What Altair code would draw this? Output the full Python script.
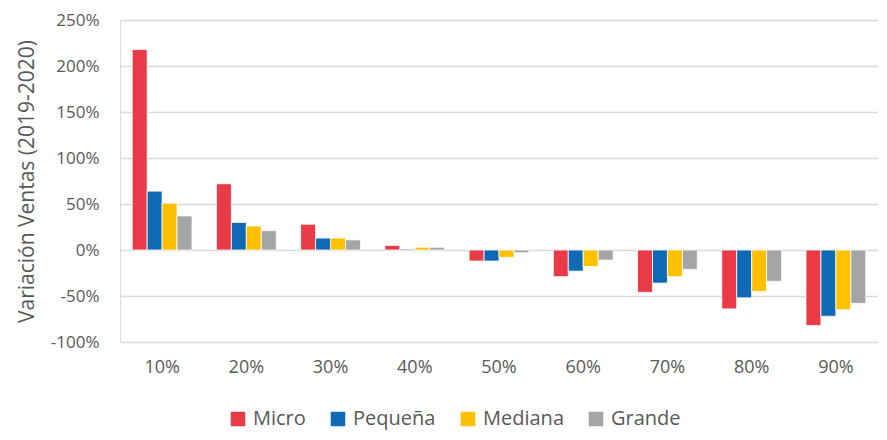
import altair as alt
import pandas as pd

categories = ["10%", "20%", "30%", "40%", "50%", "60%", "70%", "80%", "90%"]
series = ["Micro", "Pequeña", "Mediana", "Grande"]
micro = [218, 72, 28, 5, -12, -29, -46, -64, -82]
pequena = [64, 30, 13, 1, -12, -23, -36, -52, -72]
mediana = [51, 26, 13, 3, -8, -18, -29, -45, -65]
grande = [37, 21, 11, 3, -3, -11, -21, -34, -58]
colors = ["#E83A47", "#0F69B4", "#FFC000", "#A5A5A5"]
y_ticks = [-100, -50, 0, 50, 100, 150, 200, 250]

rows = []
for name, vals in zip(series, [micro, pequena, mediana, grande]):
    for c, v in zip(categories, vals):
        rows.append({"cat": c, "serie": name, "val": v})
df = pd.DataFrame(rows)

FONT = "Open Sans"
TXT = "#595959"

chart = alt.Chart(df).mark_bar(stroke="white", strokeWidth=0.8).encode(
    x=alt.X("cat:N", sort=categories, title=None,
            scale=alt.Scale(paddingInner=0.29, paddingOuter=0.145),
            axis=alt.Axis(labelAngle=0, domain=False, ticks=False, grid=False, labelPadding=16,
                          labelFontSize=18, labelColor=TXT, labelFont=FONT)),
    xOffset=alt.XOffset("serie:N", sort=series, scale=alt.Scale(paddingInner=0.0)),
    y=alt.Y("val:Q", title="Variación Ventas (2019-2020)",
            scale=alt.Scale(domain=[-100, 250], nice=False),
            axis=alt.Axis(values=y_ticks, labelExpr="datum.value + '%'",
                          domain=False, ticks=False, labelPadding=21,
                          labelFontSize=17, labelColor=TXT, labelFont=FONT,
                          titleFontSize=21, titleColor=TXT, titleFont=FONT,
                          titleFontWeight="normal", titlePadding=13,
                          gridColor="#D9D9D9", gridWidth=1.3)),
    color=alt.Color("serie:N", sort=series,
                    scale=alt.Scale(domain=series, range=colors),
                    legend=alt.Legend(title=None, orient="none", direction="horizontal",
                                      legendX=108, legendY=389,
                                      symbolType="square", symbolSize=210,
                                      symbolStrokeWidth=0, labelFontSize=20,
                                      labelColor=TXT, labelFont=FONT,
                                      labelOffset=5, columnPadding=22)),
).properties(
    width=758, height=322,
    autosize=alt.AutoSizeParams(type="none"),
    padding={"left": 112, "top": 12, "right": 0, "bottom": 90},
).configure_view(strokeWidth=0).configure(background="white")

chart.save("out.html", embed_options={"renderer": "svg", "actions": False})
